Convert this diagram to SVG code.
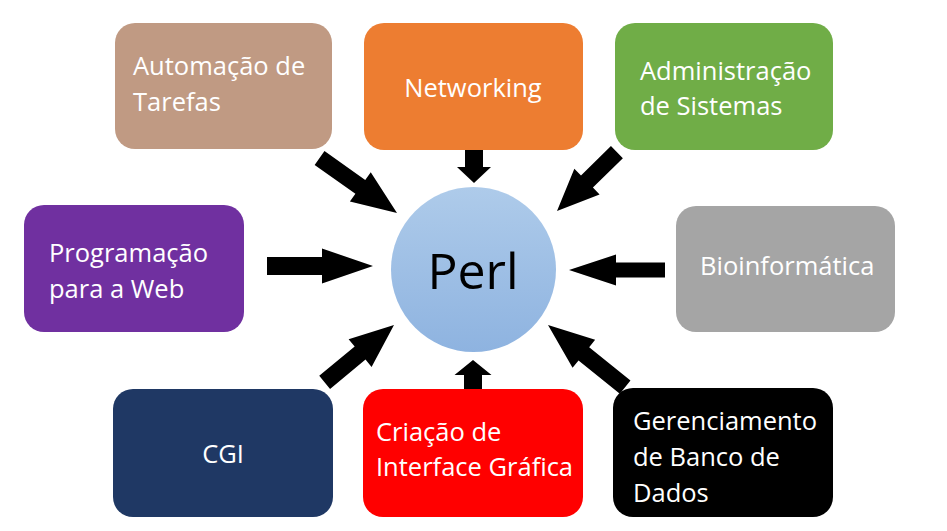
<svg xmlns="http://www.w3.org/2000/svg" width="947" height="531" viewBox="0 0 947 531">
<defs>
<linearGradient id="perlGrad" x1="0" y1="0" x2="0" y2="1">
<stop offset="0" stop-color="#AECBEA"/>
<stop offset="1" stop-color="#8EB3E0"/>
</linearGradient>
<style>
.box{rx:20px;ry:20px}
.lbl{font-family:"Open Sans","Noto Sans","DejaVu Sans",sans-serif;font-size:25.5px;fill:#FFFFFF}
.arr{fill:#000000}
</style>
</defs>
<rect width="947" height="531" fill="#FFFFFF"/>
<g id="connectors">
<path class="arr" transform="translate(397,213) rotate(35.4)" d="M-95,-8.5 H-45 V-18 L0,0 L-45,18 V8.5 H-95 Z"/>
<path class="arr" transform="translate(474,183) rotate(90)" d="M-33,-9 H-16 V-17 L0,0 L-16,17 V9 H-33 Z"/>
<path class="arr" transform="translate(557,211) rotate(135.5)" d="M-84,-8.5 H-42 V-18 L0,0 L-42,18 V8.5 H-84 Z"/>
<path class="arr" transform="translate(373,266)" d="M-106,-9 H-51 V-17.5 L0,0 L-51,17.5 V9 H-106 Z"/>
<path class="arr" transform="translate(569,270) rotate(180)" d="M-96,-7.5 H-47 V-15.5 L0,0 L-47,15.5 V7.5 H-96 Z"/>
<path class="arr" transform="translate(394,325) rotate(-39.6)" d="M-90,-8.5 H-44 V-18 L0,0 L-44,18 V8.5 H-90 Z"/>
<path class="arr" transform="translate(473,360) rotate(-90)" d="M-29,-9 H-15 V-18.5 L0,0 L-15,18.5 V9 H-29 Z"/>
<path class="arr" transform="translate(548,325) rotate(-141.2)" d="M-99,-8.5 H-46 V-18 L0,0 L-46,18 V8.5 H-99 Z"/>
</g>
<g id="perl">
<circle cx="473.5" cy="269.5" r="82.5" fill="url(#perlGrad)"/>
<text x="473" y="289" text-anchor="middle" font-family="'Open Sans','Noto Sans',sans-serif" font-size="50" fill="#000000">Perl</text>
</g>
<g id="automacao">
<rect class="box" x="115" y="23" width="217" height="126" fill="#C09A83"/>
<text class="lbl" x="133" y="75">Automação de</text>
<text class="lbl" x="133" y="111">Tarefas</text>
</g>
<g id="networking">
<rect class="box" x="364" y="23" width="219" height="127" fill="#ED7D31"/>
<text class="lbl" x="473" y="97" text-anchor="middle">Networking</text>
</g>
<g id="administracao">
<rect class="box" x="615" y="23" width="218" height="127" fill="#70AD47"/>
<text class="lbl" x="640" y="80">Administração</text>
<text class="lbl" x="640" y="115">de Sistemas</text>
</g>
<g id="programacao">
<rect class="box" x="24" y="205" width="220" height="127" fill="#7030A0"/>
<text class="lbl" x="49" y="262">Programação</text>
<text class="lbl" x="49" y="298">para a Web</text>
</g>
<g id="bioinformatica">
<rect class="box" x="676" y="206" width="219" height="126" fill="#A5A5A5"/>
<text class="lbl" x="700" y="275">Bioinformática</text>
</g>
<g id="cgi">
<rect class="box" x="113" y="389" width="220" height="128" fill="#1F3864"/>
<text class="lbl" x="223" y="463" text-anchor="middle">CGI</text>
</g>
<g id="criacao">
<rect class="box" x="363" y="389" width="220" height="128" fill="#FF0000"/>
<text class="lbl" x="376" y="441">Criação de</text>
<text class="lbl" x="376" y="476">Interface Gráfica</text>
</g>
<g id="gerenciamento">
<rect class="box" x="613" y="388" width="220" height="129" fill="#000000"/>
<text class="lbl" x="633" y="430">Gerenciamento</text>
<text class="lbl" x="633" y="466">de Banco de</text>
<text class="lbl" x="633" y="502">Dados</text>
</g>
</svg>
